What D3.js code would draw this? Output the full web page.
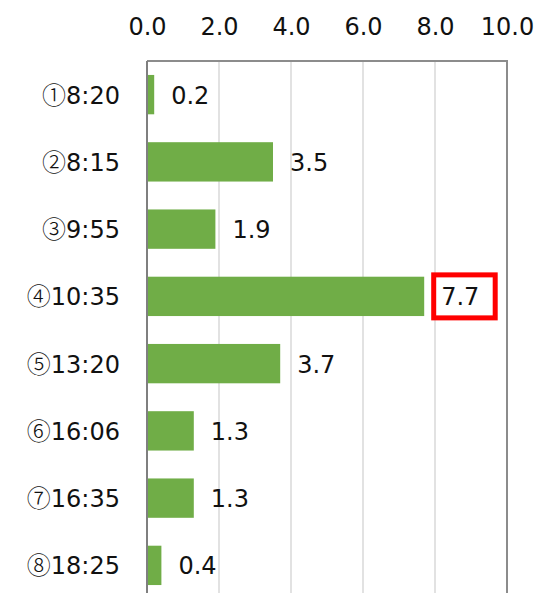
<!DOCTYPE html>
<html>
<head>
<meta charset="utf-8">
<script src="https://cdn.jsdelivr.net/npm/d3@7"></script>
<style>
  body { margin: 0; background: #fff; }
  text { font-family: "DejaVu Sans", "Noto Sans CJK JP", sans-serif; }
</style>
</head>
<body>
<div id="plot"></div>
<script>
// chart data
const categories = ["①8:20", "②8:15", "③9:55", "④10:35", "⑤13:20", "⑥16:06", "⑦16:35", "⑧18:25"];
const values = [0.2, 3.5, 1.9, 7.7, 3.7, 1.3, 1.3, 0.4];
const ticks = [0, 2, 4, 6, 8, 10];
const highlighted = "④10:35";

const data = categories.map((c, i) => ({ cat: c, value: values[i] }));

// Set up dimensions
const w = 541;
const h = 593;
const margin = {top: 61, left: 147, right: 34};
const innerWidth = w - margin.left - margin.right;
const innerHeight = 538;  // plot runs past the bottom of the picture

const xScale = d3.scaleLinear()
  .domain([0, 10])
  .range([0, innerWidth]);

const yScale = d3.scaleBand()
  .domain(categories)
  .range([0, innerHeight])
  .paddingInner(0.415)
  .paddingOuter(0.2075);

const svg = d3.select("div#plot")
  .append("svg")
  .attr("width", w)
  .attr("height", h);

const g = svg.append("g")
  .attr("transform", `translate(${margin.left}, ${margin.top})`);

// vertical gridlines
g.selectAll(".grid")
  .data(ticks.filter(t => t > 0 && t < 10))
  .join("line")
  .attr("class", "grid")
  .attr("x1", d => xScale(d))
  .attr("x2", d => xScale(d))
  .attr("y1", 0)
  .attr("y2", innerHeight)
  .attr("stroke", "#d9d9d9")
  .attr("stroke-width", 1.5);

// border top and right
g.append("path")
  .attr("d", `M0,0H${xScale(10)}V${innerHeight}`)
  .attr("fill", "none")
  .attr("stroke", "#8c8c8c")
  .attr("stroke-width", 2);

// top axis labels
const xAxis = d3.axisTop(xScale)
  .tickValues(ticks)
  .tickSize(0)
  .tickPadding(0)
  .tickFormat(d3.format(".1f"));

const xg = svg.append("g")
  .attr("transform", `translate(${margin.left}, 35)`)
  .call(xAxis);
xg.select(".domain").remove();
xg.selectAll("text")
  .attr("dy", 0)
  .style("font-size", "24px")
  .style("fill", "#111");

// bars
g.selectAll(".bar")
  .data(data)
  .join("rect")
  .attr("class", "bar")
  .attr("x", 0)
  .attr("y", d => yScale(d.cat))
  .attr("width", d => xScale(d.value))
  .attr("height", yScale.bandwidth())
  .attr("fill", "#70ad47");

// left axis line
g.append("line")
  .attr("x1", 0).attr("x2", 0)
  .attr("y1", 0).attr("y2", innerHeight)
  .attr("stroke", "#7f7f7f")
  .attr("stroke-width", 2);

// category labels (circled number in a CJK font)
const cats = g.selectAll(".cat")
  .data(data)
  .join("text")
  .attr("class", "cat")
  .attr("x", -27)
  .attr("y", d => yScale(d.cat) + yScale.bandwidth() / 2)
  .attr("dy", "0.38em")
  .attr("text-anchor", "end")
  .style("font-size", "24px")
  .style("fill", "#111");
cats.append("tspan")
  .style("font-family", "'Noto Sans CJK JP'")
  .style("font-weight", 300)
  .text(d => d.cat.slice(0, 1));
cats.append("tspan")
  .text(d => d.cat.slice(1));

// value labels
g.selectAll(".label")
  .data(data)
  .join("text")
  .attr("class", "label")
  .attr("x", d => xScale(d.value) + 17)
  .attr("y", d => yScale(d.cat) + yScale.bandwidth() / 2)
  .attr("dy", "0.38em")
  .style("font-size", "24px")
  .style("fill", "#111")
  .text(d => d.value.toFixed(1));

// red box around highlighted label
const hl = data.find(d => d.cat === highlighted);
g.append("rect")
  .attr("x", xScale(hl.value) + 9.5)
  .attr("y", yScale(hl.cat) + yScale.bandwidth() / 2 - 21.5)
  .attr("width", 61.5)
  .attr("height", 43)
  .attr("fill", "none")
  .attr("stroke", "#ff0000")
  .attr("stroke-width", 5);
</script>
</body>
</html>
